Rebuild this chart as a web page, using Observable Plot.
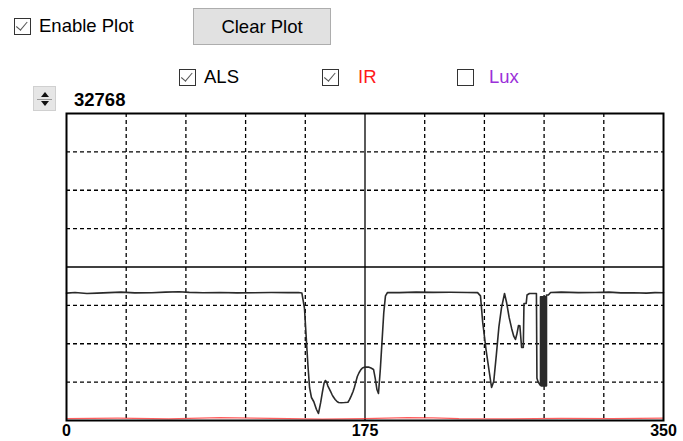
<!DOCTYPE html>
<html>
<head>
<meta charset="utf-8">
<script src="https://cdn.jsdelivr.net/npm/d3@7"></script>
<script src="https://cdn.jsdelivr.net/npm/@observablehq/plot@0.6"></script>
<style>
  html, body { margin: 0; padding: 0; background: #fff; }
  body { width: 683px; height: 441px; position: relative; overflow: hidden; font-family: "Liberation Sans", Arial, sans-serif; }
  #chart { position: absolute; left: 0; top: 0; }
  .ui { position: absolute; color: #000; font-size: 18.5px; line-height: 1; white-space: nowrap; }
  .cb { position: absolute; width: 15px; height: 15px; border: 1px solid #333; background: #fff; box-sizing: border-box; }
  .cb.on::after { content: ""; position: absolute; left: 4px; top: 0px; width: 4.5px; height: 9.5px; border-right: 1.8px solid #555; border-bottom: 1.8px solid #555; transform: rotate(40deg); }
  .btn { position: absolute; background: #e1e1e1; border: 1px solid #adadad; box-sizing: border-box; display: flex; align-items: center; justify-content: center; font-size: 18.5px; }
  .spin { position: absolute; background: #e6e6e6; border: 1px solid #d0d0d0; box-sizing: border-box; }
  .tri-up { position: absolute; left: 7px; top: 5px; width: 0; height: 0; border-left: 4px solid transparent; border-right: 4px solid transparent; border-bottom: 5px solid #111; }
  .tri-dn { position: absolute; left: 7px; top: 14px; width: 0; height: 0; border-left: 4px solid transparent; border-right: 4px solid transparent; border-top: 5px solid #111; }
  .spin-mid { position: absolute; left: 3px; right: 3px; top: 11.5px; height: 1px; background: #999; }
</style>
</head>
<body>
<div id="chart"></div>
<script>
// ---- data ----
const xTicks = [0, 175, 350];
const yMaxLabel = 32768;
const xGridDashed = [35, 70, 105, 140, 210, 245, 280, 315];
const xGridSolid = [175];
const yGridDashed = [4096, 8192, 12288, 20480, 24576, 28672];
const yGridSolid = [16384];
const seriesNames = ["ALS", "IR", "Lux"];
const seriesChecked = [true, true, false];
const seriesColors = ["#000000", "#ff1a1a", "#9b30d9"];

const alsX = [0, 5, 12, 18, 25, 32, 40, 50, 58, 66, 72, 80, 90, 100, 110, 120, 130, 136, 138,
  139.5, 140.5, 141.5, 142.5, 143.6, 145, 146.5, 147.7, 149, 150, 151, 151.8, 152.5, 153.2, 154, 154.8,
  155.6, 156.5, 157.5, 158.5, 159.5, 161, 163, 165, 166, 167, 168, 168.8, 169.6, 170.5, 171.5, 172.5,
  173.5, 175, 177, 178.5, 180, 181, 182, 182.9, 184, 185, 186, 187, 188.2, 195, 205, 215, 225, 235,
  241, 242.7, 244, 246, 248, 249.2, 250.5, 252, 253.5, 255, 256.8, 258, 259.5, 261, 262.2, 263.2,
  264, 265, 265.8, 266.5, 266.8, 267.8, 268.2, 269.5, 270, 271.4, 275.5, 275.8, 276.5, 277.3, 277.9,
  277.9, 278.3, 278.3, 278.6, 278.6, 279.0, 279.0, 279.3, 279.3, 279.7, 279.7, 280.0, 280.0, 280.4,
  280.4, 280.7, 280.7, 281.1, 281.1, 281.4, 281.4, 282.5, 283.8, 290, 300, 310, 318, 325, 332, 340, 345, 350];
const alsY = [13600, 13660, 13560, 13600, 13650, 13700, 13620, 13640, 13700, 13750, 13680, 13630, 13660, 13620, 13640, 13660, 13650, 13660, 13600,
  12000, 9000, 6000, 3500, 2455, 2000, 1200, 747, 1900, 3000, 4000, 4270, 4100, 3700, 3400, 3100,
  2800, 2500, 2250, 2050, 1921, 1900, 1920, 1950, 2250, 2650, 3100, 3550, 4100, 4700, 5100, 5400,
  5600, 5700, 5700, 5600, 5450, 4500, 3300, 2882, 5500, 8500, 11500, 13300, 13663, 13650, 13700, 13680, 13690, 13660,
  13650, 13300, 10500, 7500, 5000, 3522, 4200, 7000, 10000, 12000, 13556, 12600, 11000, 9800, 9000, 8646,
  9200, 10140, 10100, 8500, 7792, 7792, 12489, 12489, 13400, 13556, 13556, 4500, 4100, 3900, 3736,
  13200, 13200, 3700, 3700, 13200, 13200, 3700, 3700, 13200, 13200, 3700, 3700, 13200, 13200,
  3700, 3700, 13200, 13200, 3700, 3700, 13400, 13400, 13663, 13700, 13650, 13660, 13700, 13620, 13640, 13600, 13650, 13640];

const irX = [0, 30, 60, 90, 110, 130, 150, 175, 200, 215, 230, 260, 290, 320, 350];
const irY = [200, 250, 180, 300, 250, 200, 150, 200, 300, 280, 200, 180, 220, 200, 250];

const als = alsX.map((x, i) => ({x, y: alsY[i]}));
const ir = irX.map((x, i) => ({x, y: irY[i]}));

const plot = Plot.plot({
  width: 683,
  height: 441,
  marginLeft: 66,
  marginRight: 20,
  marginTop: 113,
  marginBottom: 21,
  x: {domain: [0, 350]},
  y: {domain: [0, 32768], axis: null},
  marks: [
    Plot.ruleX(xGridDashed, {stroke: "#000", strokeWidth: 1.3, strokeDasharray: "4,3"}),
    Plot.ruleY(yGridDashed, {stroke: "#000", strokeWidth: 1.3, strokeDasharray: "4,3"}),
    Plot.ruleX(xGridSolid, {stroke: "#000", strokeWidth: 1.3}),
    Plot.ruleY(yGridSolid, {stroke: "#000", strokeWidth: 1.3}),
    Plot.line(ir, {x: "x", y: "y", stroke: seriesColors[1], strokeWidth: 1.2, strokeOpacity: 0.7}),
    Plot.line(als, {x: "x", y: "y", stroke: "#2a2a2a", strokeWidth: 1.6}),
    Plot.frame({stroke: "#000", strokeWidth: 2}),
    Plot.axisX({ticks: xTicks, tickSize: 0, tickPadding: 4, label: null, fontSize: 16, fontWeight: "bold",
      fontFamily: "Liberation Sans, Arial, sans-serif", tickFormat: d => String(d)})
  ]
});
document.getElementById("chart").appendChild(plot);

// ---- UI controls (static) ----
function el(cls, style, text) {
  const d = document.createElement("div");
  d.className = cls;
  Object.assign(d.style, style);
  if (text != null) d.textContent = text;
  document.body.appendChild(d);
  return d;
}
el("cb on", {left: "14px", top: "18px", width: "17px", height: "17px"});
el("ui", {left: "39px", top: "17px"}, "Enable Plot");
el("btn", {left: "193px", top: "8px", width: "138px", height: "37px"}, "Clear Plot");

const spin = el("spin", {left: "33px", top: "86px", width: "23px", height: "25px"});
["tri-up", "spin-mid", "tri-dn"].forEach(c => { const s = document.createElement("div"); s.className = c; spin.appendChild(s); });
el("ui", {left: "74px", top: "91px", fontWeight: "bold", fontSize: "18.5px"}, String(yMaxLabel));

const legendBoxX = [179, 322, 457];
const legendTextX = [204, 358, 489];
seriesNames.forEach((name, i) => {
  el("cb" + (seriesChecked[i] ? " on" : ""), {left: legendBoxX[i] + "px", top: "69px", width: "17px", height: "17px"});
  el("ui", {left: legendTextX[i] + "px", top: "68px", color: i === 0 ? "#000" : seriesColors[i]}, name);
});
</script>
</body>
</html>
